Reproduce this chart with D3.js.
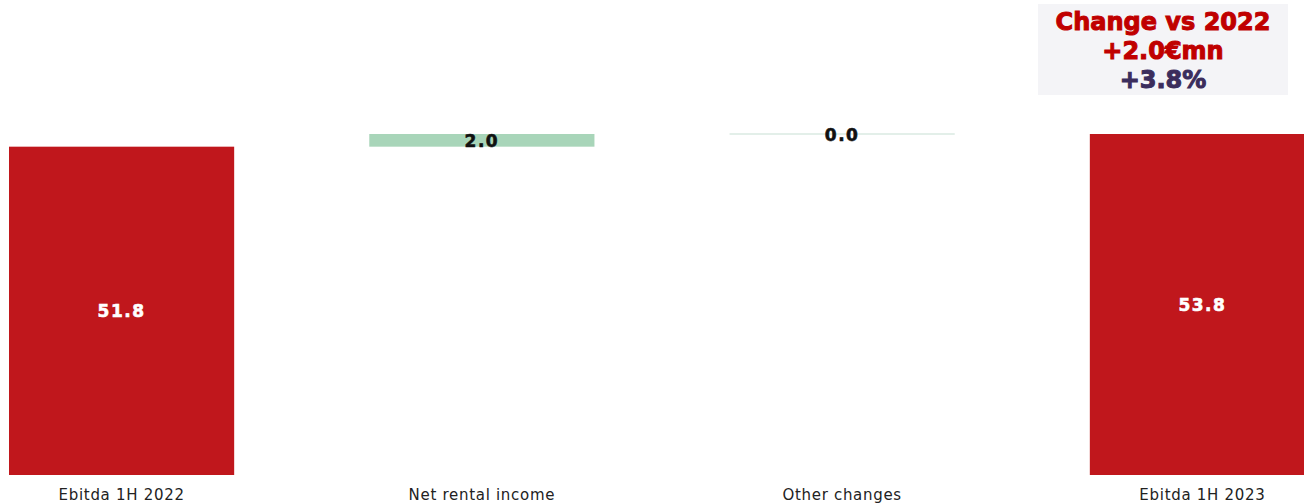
<!DOCTYPE html>
<html>
<head>
<meta charset="utf-8">
<script src="https://cdn.jsdelivr.net/npm/d3@7"></script>
<style>
  body { margin: 0; background: #fff; overflow: hidden; }
  text { font-family: "DejaVu Sans", Verdana, sans-serif; }
</style>
</head>
<body>
<div id="chart"></div>
<script>
// chart data
const categories = ["Ebitda 1H 2022", "Net rental income", "Other changes", "Ebitda 1H 2023"];
const values = [51.8, 2.0, 0.0, 53.8];
const kinds = ["total", "delta", "delta", "total"];
const boxLines = ["Change vs 2022", "+2.0\u20acmn", "+3.8%"];

const w = 1304;
const h = 503;

const svg = d3.select("#chart")
  .append("svg")
  .attr("width", w)
  .attr("height", h);

// waterfall start / end for each bar
let running = 0;
const bars = categories.map((c, i) => {
  let y0, y1;
  if (kinds[i] == "total") {
    y0 = 0; y1 = values[i]; running = values[i];
  } else {
    y0 = running; y1 = running + values[i]; running = y1;
  }
  return { cat: c, value: values[i], kind: kinds[i], y0: y0, y1: y1 };
});

const x = d3.scaleBand()
  .domain(categories)
  .range([9, 1315])
  .paddingInner(0.375)
  .paddingOuter(0);

const y = d3.scaleLinear()
  .domain([0, 53.8])
  .range([475, 134]);

const color = (d) => {
  if (d.kind == "total") return "#c0171c";
  return d.value > 0 ? "#a8d5b9" : "#e3efe9";
};

svg.append("g")
  .selectAll("rect")
  .data(bars)
  .enter()
  .append("rect")
  .attr("x", d => x(d.cat))
  .attr("width", x.bandwidth())
  .attr("y", d => Math.min(y(d.y0), y(d.y1)) - (d.y0 == d.y1 ? 1 : 0))
  .attr("height", d => Math.max(2, Math.abs(y(d.y0) - y(d.y1))))
  .attr("fill", color);

// value labels
svg.append("g")
  .selectAll("text")
  .data(bars)
  .enter()
  .append("text")
  .attr("x", d => x(d.cat) + x.bandwidth() / 2)
  .attr("y", d => (y(d.y0) + y(d.y1)) / 2 + 1.5)
  .attr("text-anchor", "middle")
  .attr("dominant-baseline", "middle")
  .attr("font-size", 17)
  .attr("font-weight", "bold")
  .attr("letter-spacing", 1.5)
  .attr("fill", d => d.kind == "total" ? "#fff" : "#111")
  .attr("stroke", d => d.kind == "total" ? "#fff" : "#111")
  .attr("stroke-width", 0.6)
  .text(d => d3.format(".1f")(d.value));

// category axis labels
const xAxis = d3.axisBottom(x).tickSize(0).tickPadding(14);
const gx = svg.append("g")
  .attr("transform", "translate(0, 475)")
  .call(xAxis);
gx.select(".domain").remove();
gx.selectAll("text")
  .attr("font-family", "DejaVu Sans, Verdana, sans-serif")
  .attr("font-size", 15)
  .attr("letter-spacing", 0.7)
  .attr("fill", "#222");

// change box
svg.append("rect")
  .attr("x", 1038)
  .attr("y", 4)
  .attr("width", 250)
  .attr("height", 91)
  .attr("fill", "#f4f4f7");

svg.append("g")
  .selectAll("text")
  .data(boxLines)
  .enter()
  .append("text")
  .attr("x", 1163)
  .attr("y", (d, i) => 30 + i * 29)
  .attr("text-anchor", "middle")
  .attr("font-size", 24)
  .attr("font-weight", "bold")
  .attr("fill", (d, i) => i < 2 ? "#c00000" : "#3b2d5c")
  .attr("stroke", (d, i) => i < 2 ? "#c00000" : "#3b2d5c")
  .attr("stroke-width", 1)
  .text(d => d);
</script>
</body>
</html>
